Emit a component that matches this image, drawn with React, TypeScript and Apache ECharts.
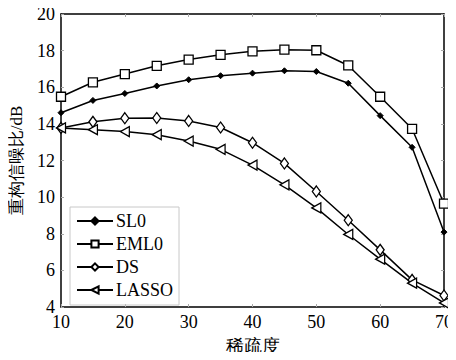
import React, { useEffect, useRef } from "react";
import * as echarts from "echarts";

const sparsity = [10, 15, 20, 25, 30, 35, 40, 45, 50, 55, 60, 65, 70];
const sl0 = [14.61, 15.28, 15.66, 16.07, 16.41, 16.63, 16.77, 16.9, 16.86, 16.22, 14.45, 12.72, 8.09];
const eml0 = [15.48, 16.27, 16.72, 17.17, 17.51, 17.77, 17.96, 18.05, 18.02, 17.19, 15.48, 13.73, 9.64];
const ds = [13.78, 14.11, 14.31, 14.32, 14.16, 13.8, 12.97, 11.84, 10.31, 8.74, 7.12, 5.48, 4.63];
const lasso = [13.78, 13.68, 13.58, 13.41, 13.06, 12.61, 11.75, 10.67, 9.41, 7.96, 6.61, 5.3, 4.22];
const seriesNames = ["SL0", "EML0", "DS", "LASSO"];
const xName = "稀疏度";
const yName = "重构信噪比/dB";

const FONT = "Times New Roman, Liberation Serif, serif";

export default function App() {
  const ref = useRef<HTMLDivElement>(null);
  useEffect(() => {
    if (!ref.current) return;
    const chart = echarts.init(ref.current, undefined, { renderer: "svg" });
    const pair = (ys: number[]) => sparsity.map((x, i) => [x, ys[i]]);
    const base = {
      type: "line",
      xAxisIndex: 0,
      yAxisIndex: 0,
      lineStyle: { color: "#000", width: 1.5 },
      itemStyle: { color: "#fff", borderColor: "#000", borderWidth: 1.3 },
      showAllSymbol: true,
    };
    const tickStyle = { inside: true, length: 3, lineStyle: { color: "#aaa" } };
    const lineStyle = { onZero: false, lineStyle: { color: "#000", width: 1.5 } };
    chart.setOption({
      animation: false,
      backgroundColor: "#fff",
      textStyle: { fontFamily: FONT },
      grid: { left: 58, right: 8, top: 14, bottom: 50 },
      legend: {
        orient: "vertical",
        left: 70,
        top: 207,
        padding: [5, 6, 6, 6],
        itemGap: 5,
        itemWidth: 36,
        itemHeight: 9,
        borderColor: "#c8c8c8",
        borderWidth: 1,
        textStyle: { fontFamily: FONT, fontSize: 18, color: "#000", padding: [0, 0, 0, -2] },
        data: seriesNames,
      },
      xAxis: [
        {
          type: "value",
          min: 10,
          max: 70,
          interval: 10,
          name: xName,
          nameLocation: "middle",
          nameGap: 30,
          nameTextStyle: { fontFamily: FONT, fontSize: 18, color: "#000" },
          axisLine: lineStyle,
          axisTick: tickStyle,
          axisLabel: { fontFamily: FONT, fontSize: 18, color: "#000", margin: 6 },
          splitLine: { show: false },
        },
        {
          type: "value",
          position: "top",
          min: 10,
          max: 70,
          interval: 10,
          axisLine: lineStyle,
          axisTick: tickStyle,
          axisLabel: { show: false },
          splitLine: { show: false },
        },
      ],
      yAxis: [
        {
          type: "value",
          min: 4,
          max: 20,
          interval: 2,
          name: yName,
          nameLocation: "middle",
          nameGap: 36,
          nameTextStyle: { fontFamily: FONT, fontSize: 17, color: "#000" },
          axisLine: lineStyle,
          axisTick: tickStyle,
          axisLabel: { fontFamily: FONT, fontSize: 18, color: "#000", margin: 6 },
          splitLine: { show: false },
        },
        {
          type: "value",
          position: "right",
          min: 4,
          max: 20,
          interval: 2,
          axisLine: lineStyle,
          axisTick: tickStyle,
          axisLabel: { show: false },
          splitLine: { show: false },
        },
      ],
      series: [
        {
          ...base,
          name: seriesNames[0],
          data: pair(sl0),
          symbol: "diamond",
          symbolSize: 6,
          itemStyle: { color: "#000", borderColor: "#000", borderWidth: 1 },
          z: 3,
        },
        {
          ...base,
          name: seriesNames[1],
          data: pair(eml0),
          symbol: "rect",
          symbolSize: 9,
        },
        {
          ...base,
          name: seriesNames[2],
          data: pair(ds),
          symbol: "diamond",
          symbolSize: [8, 11],
        },
        {
          ...base,
          name: seriesNames[3],
          data: pair(lasso),
          symbol: "triangle",
          symbolRotate: 90,
          symbolSize: [10, 9],
        },
      ],
    });
    return () => chart.dispose();
  }, []);
  return <div ref={ref} style={{ width: 456, height: 360, margin: -8 }} />;
}
